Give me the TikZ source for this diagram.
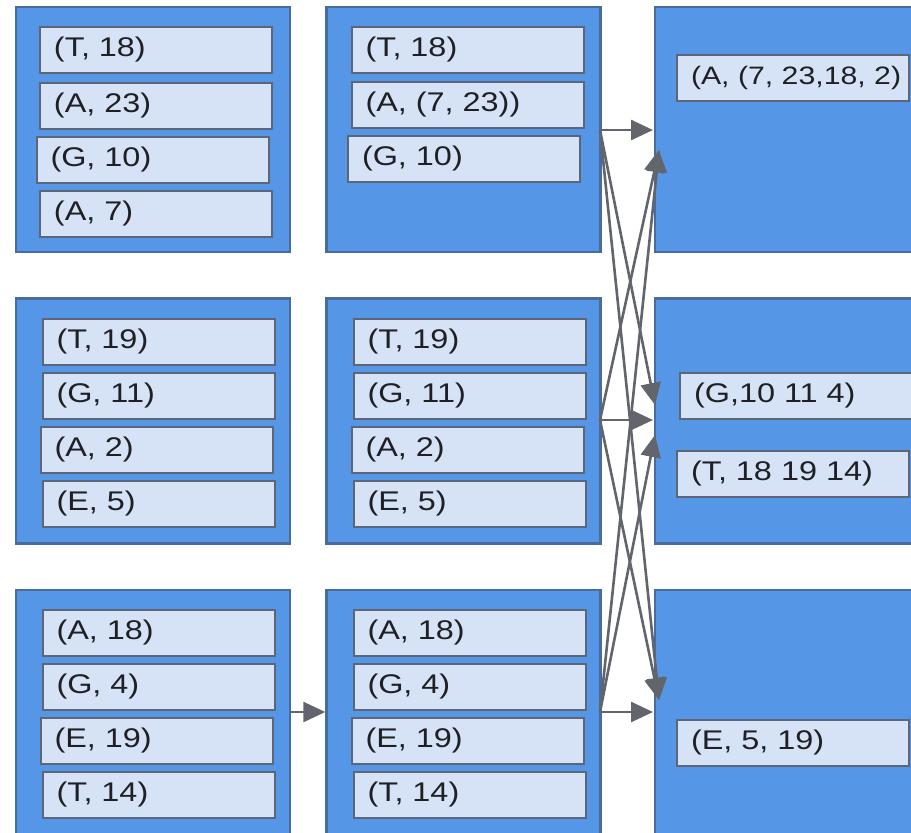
\documentclass[tikz,border=0pt]{standalone}
\usepackage{fontspec}
\setmainfont{Liberation Sans}[FakeStretch=1.2]
\usepackage{tikz}
\usetikzlibrary{arrows.meta,positioning}

\definecolor{boxfill}{RGB}{86,150,230}
\definecolor{boxline}{RGB}{72,108,158}
\definecolor{cellfill}{RGB}{214,226,246}
\definecolor{cellline}{RGB}{92,102,118}
\definecolor{arrowgray}{RGB}{98,102,108}
\definecolor{textdark}{RGB}{30,32,36}

\begin{document}
\begin{tikzpicture}[
  x=0.5pt,y=-0.5pt,
  outerbox/.style={rectangle,draw=boxline,line width=1.2pt,fill=boxfill,
                   minimum width=137pt,minimum height=122.5pt,inner sep=0pt},
  cell/.style={rectangle,draw=cellline,line width=1pt,fill=cellfill,
               minimum width=116pt,minimum height=23pt,inner ysep=0pt,
               inner xsep=7pt,text width=102pt,align=left,text=textdark,
               font=\fontsize{13.5}{15}\selectfont},
  flow/.style={-{Triangle[length=11pt,width=10pt]},arrowgray,line width=1.3pt},
]
  \clip (0,0) rectangle (911,832);
  \fill[white] (0,0) rectangle (911,832);

  % Outer boxes (three columns, three rows)
  \node[outerbox] (map1)  at (153,129.5) {};
  \node[outerbox] (map2)  at (153,421)   {};
  \node[outerbox] (map3)  at (153,712.5) {};
  \node[outerbox] (comb1) at (463.5,129.5) {};
  \node[outerbox] (comb2) at (463.5,421)   {};
  \node[outerbox] (comb3) at (463.5,712.5) {};
  \node[outerbox,minimum width=150pt] (red1) at (805,129.5) {};
  \node[outerbox,minimum width=150pt] (red2) at (805,421)   {};
  \node[outerbox,minimum width=150pt] (red3) at (805,712.5) {};

  % Column 1
  \node[cell] (m1a) at (156,50)    {(T, 18)};
  \node[cell] (m1b) at (156,105.5) {(A, 23)};
  \node[cell] (m1c) at (152.5,159.5) {(G, 10)};
  \node[cell] (m1d) at (156,214)   {(A, 7)};

  \node[cell] (m2a) at (158.5,342)   {(T, 19)};
  \node[cell] (m2b) at (158.5,396)   {(G, 11)};
  \node[cell] (m2c) at (156.5,449.5) {(A, 2)};
  \node[cell] (m2d) at (158.5,503.5) {(E, 5)};

  \node[cell] (m3a) at (158.5,632.5) {(A, 18)};
  \node[cell] (m3b) at (158.5,686.5) {(G, 4)};
  \node[cell] (m3c) at (156.5,740.5) {(E, 19)};
  \node[cell] (m3d) at (158.5,794.5) {(T, 14)};

  % Column 2
  \node[cell] (c1a) at (467.5,50)  {(T, 18)};
  \node[cell] (c1b) at (467.5,105) {(A, (7, 23))};
  \node[cell] (c1c) at (464,158.5) {(G, 10)};

  \node[cell] (c2a) at (469.5,342)   {(T, 19)};
  \node[cell] (c2b) at (469.5,396)   {(G, 11)};
  \node[cell] (c2c) at (467.5,449.5) {(A, 2)};
  \node[cell] (c2d) at (469.5,503.5) {(E, 5)};

  \node[cell] (c3a) at (469.5,632.5) {(A, 18)};
  \node[cell] (c3b) at (469.5,686.5) {(G, 4)};
  \node[cell] (c3c) at (467.5,740.5) {(E, 19)};
  \node[cell] (c3d) at (469.5,794.5) {(T, 14)};

  % Column 3
  \node[cell,inner xsep=6pt,font=\fontsize{12.6}{15}\selectfont] (r1a) at (793,77.5)
       {\mbox{(A, (7, 23,18, 2)}};
  \node[cell] (r2a) at (796,395.5) {(G,10 11 4)};
  \node[cell] (r2b) at (793,474)   {(T, 18 19 14)};
  \node[cell] (r3a) at (793,742.5) {(E, 5, 19)};

  % Arrow ends
  \coordinate (s1) at (600,130);
  \coordinate (s2) at (600,420);
  \coordinate (s3) at (600,712);
  \coordinate (t1a) at (653,130);
  \coordinate (t1b) at (659,150);
  \coordinate (t2a) at (655,405);
  \coordinate (t2b) at (653,420);
  \coordinate (t2c) at (655,435);
  \coordinate (t3a) at (659,700);
  \coordinate (t3b) at (653,712);

  % Shuffle arrows
  \draw[flow] (s1) -- (t1a);
  \draw[flow] (s1) -- (t2a);
  \draw[flow] (s1) -- (t3a);
  \draw[flow] (s2) -- (t1b);
  \draw[flow] (s2) -- (t2b);
  \draw[flow] (s2) -- (t3a);
  \draw[flow] (s3) -- (t1b);
  \draw[flow] (s3) -- (t2c);
  \draw[flow] (s3) -- (t3b);

  % Combiner arrow
  \draw[flow] (map3.east |- s3) -- (comb3.west |- s3);
\end{tikzpicture}
\end{document}
